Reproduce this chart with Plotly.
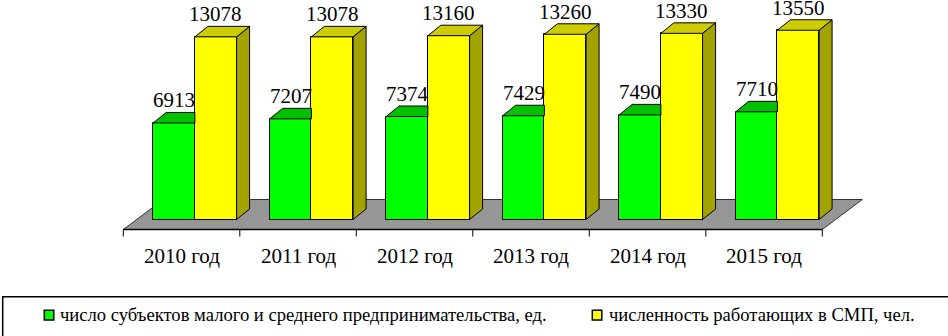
import plotly.graph_objects as go

# ---------------- data ----------------
years = ["2010 год", "2011 год", "2012 год", "2013 год", "2014 год", "2015 год"]
subjects = [6913, 7207, 7374, 7429, 7490, 7710]
workers = [13078, 13078, 13160, 13260, 13330, 13550]
series_names = [
    "число субъектов малого и среднего предпринимательства, ед.",
    "численность работающих в СМП, чел.",
]

# ---------------- geometry / style ----------------
W, H = 948, 336
X0_PX = 123.3          # pixel position of the first category boundary
PX_PER_CAT = 116.5     # pixel width of one category
Y0_PX = 219.5          # pixel position of value 0
UNITS_PER_PX = 71.6    # value units per pixel

def ux(px):
    return px / PX_PER_CAT

def uy(px):
    return px * UNITS_PER_PX

def py2y(py):
    return (Y0_PX - py) * UNITS_PER_PX

def py2paper(py):
    return 1 - py / H

def px2paper(px):
    return px / W

x_range = [-X0_PX / PX_PER_CAT, (W - X0_PX) / PX_PER_CAT]
y_range = [-(H - Y0_PX) * UNITS_PER_PX, Y0_PX * UNITS_PER_PX]

BAR_W = ux(41.7)
BAR_DX, BAR_DY = ux(13), uy(10.5)
FLOOR_DX, FLOOR_DY = ux(40), uy(30)
FLOOR_FRONT = -uy(10)
SHIFT = FLOOR_DX * 10 / 30

GREEN, GREEN_TOP = "#00FF00", "#00C000"
YELLOW, YELLOW_TOP, YELLOW_SIDE = "#FFFF00", "#CCCC00", "#A3A300"
FLOOR = "#969696"
FONT = "Liberation Serif, Times New Roman, serif"

n = len(years)
centers = [i + 0.5 + SHIFT for i in range(n)]

fig = go.Figure()

# front faces (bars)
fig.add_trace(go.Bar(
    x=[c - BAR_W / 2 for c in centers], y=subjects, width=BAR_W,
    marker=dict(color=GREEN, line=dict(color="black", width=1)),
    name=series_names[0], showlegend=False, hoverinfo="skip",
))
fig.add_trace(go.Bar(
    x=[c + BAR_W / 2 for c in centers], y=workers, width=BAR_W,
    marker=dict(color=YELLOW, line=dict(color="black", width=1)),
    name=series_names[1], showlegend=False, hoverinfo="skip",
))

# top face of green (clipped by yellow bar)
gx, gy = [], []
for c, h in zip(centers, subjects):
    gx += [c - BAR_W, c, c, c - BAR_W + BAR_DX, c - BAR_W, None]
    gy += [h, h, h + BAR_DY, h + BAR_DY, h, None]
fig.add_trace(go.Scatter(x=gx, y=gy, fill="toself", fillcolor=GREEN_TOP, mode="lines",
                         line=dict(color="black", width=1), showlegend=False, hoverinfo="skip"))

# yellow top and side faces
tx, ty, sx, sy = [], [], [], []
for c, h in zip(centers, workers):
    tx += [c, c + BAR_W, c + BAR_W + BAR_DX, c + BAR_DX, c, None]
    ty += [h, h, h + BAR_DY, h + BAR_DY, h, None]
    sx += [c + BAR_W, c + BAR_W, c + BAR_W + BAR_DX, c + BAR_W + BAR_DX, c + BAR_W, None]
    sy += [0, h, h + BAR_DY, BAR_DY, 0, None]
fig.add_trace(go.Scatter(x=sx, y=sy, fill="toself", fillcolor=YELLOW_SIDE, mode="lines",
                         line=dict(color="black", width=1), showlegend=False, hoverinfo="skip"))
fig.add_trace(go.Scatter(x=tx, y=ty, fill="toself", fillcolor=YELLOW_TOP, mode="lines",
                         line=dict(color="black", width=1), showlegend=False, hoverinfo="skip"))

shapes = []
# floor
fx = [0, n, n + FLOOR_DX, FLOOR_DX]
fy = [FLOOR_FRONT, FLOOR_FRONT, FLOOR_FRONT + FLOOR_DY, FLOOR_FRONT + FLOOR_DY]
path = "M " + " L ".join(f"{a},{b}" for a, b in zip(fx, fy)) + " Z"
shapes.append(dict(type="path", path=path, xref="x", yref="y", layer="below",
                   fillcolor=FLOOR, line=dict(color="#303030", width=1)))
# category axis line and ticks
shapes.append(dict(type="line", xref="x", yref="y", x0=0, x1=n, y0=FLOOR_FRONT, y1=FLOOR_FRONT,
                   line=dict(color="black", width=1.5)))
for i in range(n + 1):
    shapes.append(dict(type="line", xref="x", yref="y", x0=i, x1=i,
                       y0=FLOOR_FRONT, y1=FLOOR_FRONT - uy(7),
                       line=dict(color="black", width=1)))

annotations = []
# value labels
for c, h in zip(centers, subjects):
    annotations.append(dict(x=c - BAR_W / 2, y=h + BAR_DY, xref="x", yref="y", text=str(h),
                            showarrow=False, yanchor="bottom", yshift=-1, borderpad=0,
                            font=dict(family=FONT, size=21, color="black")))
for c, h in zip(centers, workers):
    annotations.append(dict(x=c + BAR_W / 2, y=h + BAR_DY, xref="x", yref="y", text=str(h),
                            showarrow=False, yanchor="bottom", yshift=-1, borderpad=0,
                            font=dict(family=FONT, size=21, color="black")))
# category labels
for i, name in enumerate(years):
    annotations.append(dict(x=i + 0.5, y=py2y(241.5), xref="x", yref="y", text=name,
                            showarrow=False, yanchor="top",
                            font=dict(family=FONT, size=21, color="black")))

# legend box (manual)
shapes.append(dict(type="rect", xref="paper", yref="paper",
                   x0=px2paper(2.7), x1=1.05, y0=py2paper(296.7), y1=-0.1,
                   line=dict(color="black", width=1.5), fillcolor="rgba(0,0,0,0)"))
legend_items = [(GREEN, 44.3, 57.5, series_names[0]), (YELLOW, 592.3, 606.5, series_names[1])]
for col, mx, txx, label in legend_items:
    shapes.append(dict(type="rect", xref="paper", yref="paper",
                       x0=px2paper(mx), x1=px2paper(mx + 9.5),
                       y0=py2paper(310.3), y1=py2paper(320),
                       fillcolor=col, line=dict(color="black", width=1.5)))
    annotations.append(dict(x=px2paper(txx), y=py2paper(326.8), xref="paper", yref="paper",
                            text=label, showarrow=False, xanchor="left", yanchor="bottom",
                            font=dict(family=FONT, size=18.6, color="black")))

fig.update_layout(
    width=W, height=H,
    margin=dict(l=0, r=0, t=0, b=0),
    paper_bgcolor="white", plot_bgcolor="white",
    barmode="overlay", bargap=0,
    showlegend=False,
    xaxis=dict(range=x_range, visible=False, fixedrange=True),
    yaxis=dict(range=y_range, visible=False, fixedrange=True),
    shapes=shapes, annotations=annotations,
)

fig.write_html("out.html")
